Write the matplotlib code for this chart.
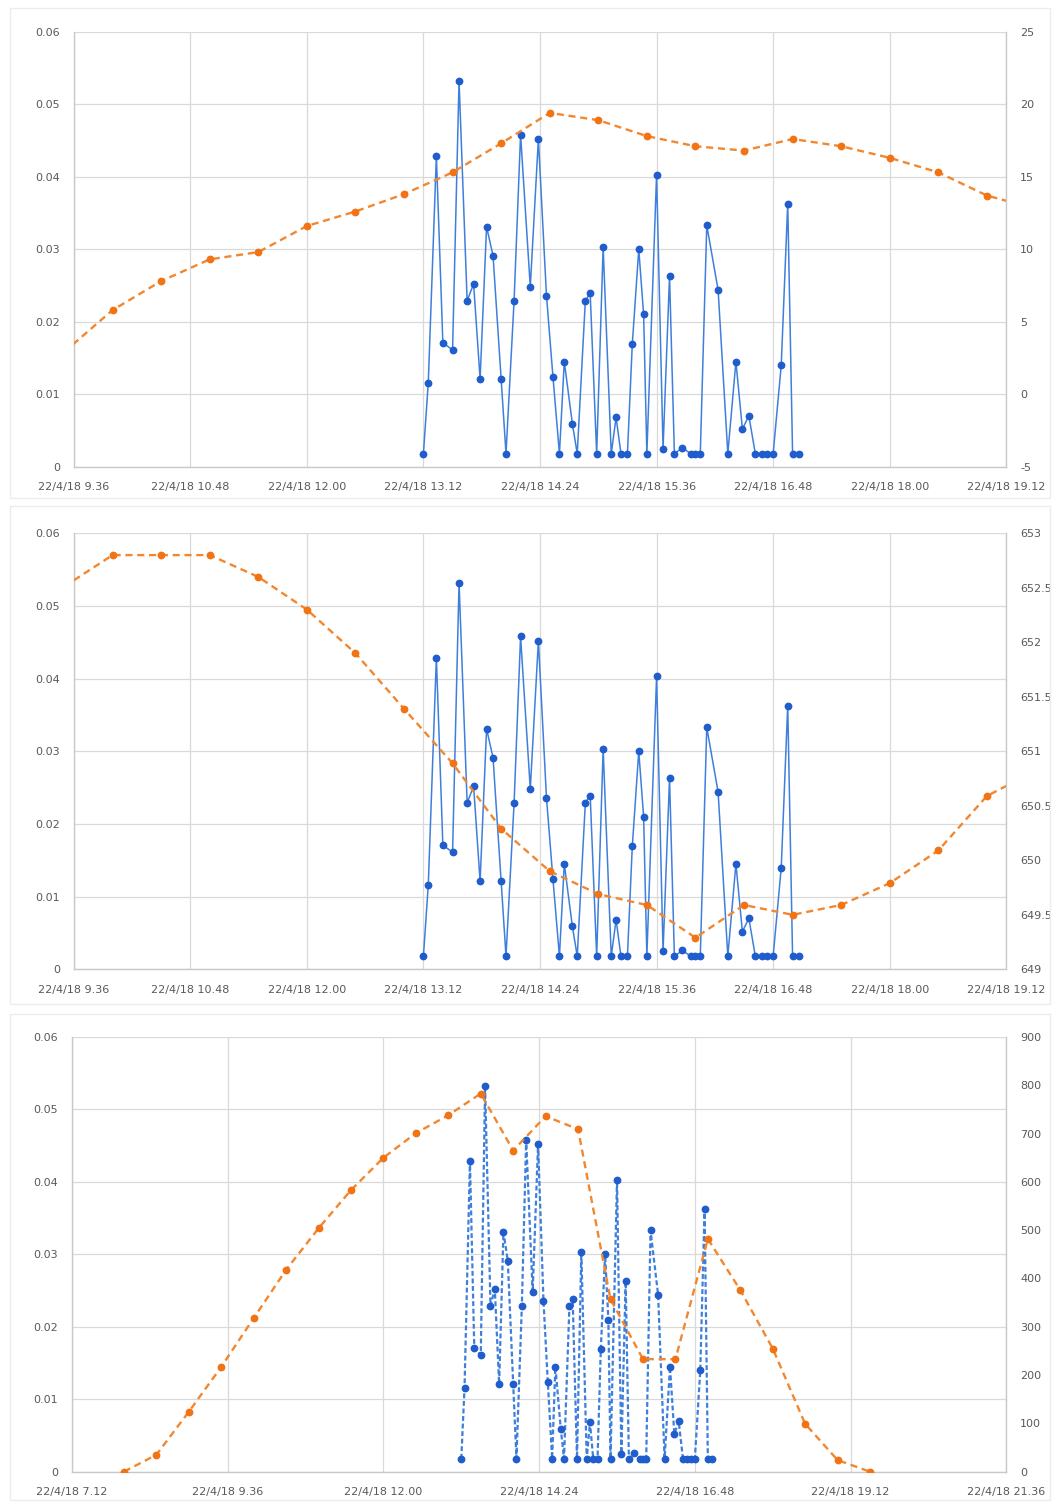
import matplotlib
matplotlib.use("Agg")
import matplotlib.pyplot as plt
import matplotlib.dates as mdates
import pandas as pd
from matplotlib.patches import Rectangle
from matplotlib.ticker import FuncFormatter

DAY = "2018-04-22 "

# sampled series on the left axis (same readings in all three charts)
blue_times = ["13:12", "13:15", "13:20", "13:24", "13:30", "13:34", "13:39", "13:43",
              "13:47", "13:51", "13:55", "14:00", "14:03", "14:08", "14:12", "14:18",
              "14:23", "14:28", "14:32", "14:36", "14:39", "14:44", "14:47", "14:52",
              "14:55", "14:59", "15:03", "15:08", "15:11", "15:14", "15:18", "15:21",
              "15:25", "15:28", "15:30", "15:36", "15:40", "15:44", "15:47", "15:52",
              "15:57", "16:00", "16:03", "16:07", "16:14", "16:20", "16:25", "16:29",
              "16:33", "16:37", "16:41", "16:44", "16:48", "16:53", "16:57", "17:00",
              "17:04"]
blue_values = [0.0018, 0.0116, 0.0429, 0.0171, 0.0161, 0.0532, 0.0229, 0.0252,
               0.0121, 0.0331, 0.0291, 0.0121, 0.0018, 0.0229, 0.0458, 0.0248,
               0.0452, 0.0236, 0.0124, 0.0018, 0.0145, 0.0059, 0.0018, 0.0229,
               0.0239, 0.0018, 0.0303, 0.0018, 0.0068, 0.0018, 0.0018, 0.0169,
               0.0300, 0.0210, 0.0018, 0.0403, 0.0025, 0.0263, 0.0018, 0.0026,
               0.0018, 0.0018, 0.0018, 0.0333, 0.0244, 0.0018, 0.0145, 0.0052,
               0.0070, 0.0018, 0.0018, 0.0018, 0.0018, 0.0140, 0.0363, 0.0018,
               0.0018]

# half-hourly series on the right axis
half_hours = ["9:30", "10:00", "10:30", "11:00", "11:30", "12:00", "12:30", "13:00",
              "13:30", "14:00", "14:30", "15:00", "15:30", "16:00", "16:30", "17:00",
              "17:30", "18:00", "18:30", "19:00", "19:30"]
temp_values = [2.9, 5.8, 7.8, 9.3, 9.8, 11.6, 12.6, 13.8, 15.3, 17.3, 19.4, 18.9,
               17.8, 17.1, 16.8, 17.6, 17.1, 16.3, 15.3, 13.7, 12.8]
press_values = [652.51, 652.80, 652.80, 652.80, 652.60, 652.30, 651.90, 651.39,
                650.89, 650.29, 649.90, 649.69, 649.59, 649.29, 649.59, 649.50,
                649.59, 649.79, 650.09, 650.59, 650.82]

irr_times = ["8:00", "8:30", "9:00", "9:30", "10:00", "10:30", "11:00", "11:30",
             "12:00", "12:30", "13:00", "13:30", "14:00", "14:30", "15:00", "15:30",
             "16:00", "16:30", "17:00", "17:30", "18:00", "18:30", "19:00", "19:30"]
irr_values = [0, 35, 124, 217, 318, 418, 504, 583, 650, 701, 738, 783, 665, 736,
              709, 357, 233, 233, 482, 376, 255, 99, 24, 0]

ticks_day = ["9:36", "10:48", "12:00", "13:12", "14:24", "15:36", "16:48", "18:00", "19:12"]
ticks_wide = ["7:12", "9:36", "12:00", "14:24", "16:48", "19:12", "21:36"]

left_ticks = [0, 0.01, 0.02, 0.03, 0.04, 0.05, 0.06]
temp_ticks = [-5, 0, 5, 10, 15, 20, 25]
press_ticks = [649, 649.5, 650, 650.5, 651, 651.5, 652, 652.5, 653]
irr_ticks = [0, 100, 200, 300, 400, 500, 600, 700, 800, 900]

BLUE_LINE = "#3f7fdc"
BLUE_DOT = "#1f5ccc"
ORANGE_LINE = "#f2872f"
ORANGE_DOT = "#f27314"
GRID = "#d9d9d9"
TXT = "#595959"


def to_dt(times):
    return pd.to_datetime([DAY + t for t in times])


def date_label(x, pos):
    d = mdates.num2date(x)
    return "22/4/18 %d.%02d" % (d.hour, d.minute)


def panel(fig, rect, xticks, right_ticks, right_vals, right_times, blue_dash=False):
    ax = fig.add_axes(rect)
    ax2 = ax.twinx()
    xt = to_dt(xticks)
    ax.set_xlim(xt[0], xt[-1])
    ax.set_xticks(xt)
    ax.xaxis.set_major_formatter(FuncFormatter(date_label))
    ax.set_ylim(0, 0.06)
    ax.set_yticks(left_ticks)
    ax.yaxis.set_major_formatter(FuncFormatter(lambda v, p: "%g" % round(v, 3)))
    ax.grid(True, color=GRID, linewidth=0.9)
    ax.set_axisbelow(True)

    ax2.set_ylim(right_ticks[0], right_ticks[-1])
    ax2.set_yticks(right_ticks)
    ax2.yaxis.set_major_formatter(FuncFormatter(lambda v, p: "%g" % v))

    for a in (ax, ax2):
        for side in ("top", "left", "right", "bottom"):
            a.spines[side].set_visible(False)
        a.tick_params(length=0, labelsize=8, labelcolor=TXT)
    ax.spines["left"].set_visible(True)
    ax.spines["bottom"].set_visible(True)
    ax2.spines["right"].set_visible(True)
    for s in (ax.spines["left"], ax.spines["bottom"], ax2.spines["right"]):
        s.set_color("#c8c8c8")
        s.set_linewidth(1.0)
    ax.tick_params(axis="y", pad=10)
    ax.tick_params(axis="x", pad=11)
    ax2.tick_params(axis="y", pad=10)

    if blue_dash:
        ax.plot(to_dt(blue_times), blue_values, color=BLUE_LINE, linewidth=1.6,
                linestyle=(0, (2.2, 1.2)), marker="o", markersize=4.6,
                markerfacecolor=BLUE_DOT, markeredgecolor=BLUE_DOT)
    else:
        ax.plot(to_dt(blue_times), blue_values, color=BLUE_LINE, linewidth=1.1,
                marker="o", markersize=4.6,
                markerfacecolor=BLUE_DOT, markeredgecolor=BLUE_DOT)
    ax2.plot(to_dt(right_times), right_vals, color=ORANGE_LINE, linewidth=1.7,
             linestyle=(0, (3, 2)), marker="o", markersize=4.6,
             markerfacecolor=ORANGE_DOT, markeredgecolor=ORANGE_DOT)
    return ax, ax2


W, H = 1057, 1503
fig = plt.figure(figsize=(W / 100, H / 100), dpi=100)
fig.patch.set_facecolor("white")


def frac(x0, y_top, x1, y_bot):
    return [x0 / W, (H - y_bot) / H, (x1 - x0) / W, (y_bot - y_top) / H]


# light frames around each chart
for top, bot in ((8, 498), (506, 1004), (1014, 1500)):
    fig.add_artist(Rectangle((10 / W, (H - bot) / H), 1040 / W, (bot - top) / H,
                             transform=fig.transFigure, fill=False,
                             edgecolor="#ececec", linewidth=1.0))

panel(fig, frac(73.7, 31.7, 1006.3, 466.7), ticks_day, temp_ticks, temp_values, half_hours)
panel(fig, frac(73.7, 533.3, 1006.3, 969.3), ticks_day, press_ticks, press_values, half_hours)
panel(fig, frac(72, 1037, 1006.3, 1471.7), ticks_wide, irr_ticks, irr_values, irr_times,
      blue_dash=True)

fig.savefig("out.png", dpi=100, facecolor="white")
